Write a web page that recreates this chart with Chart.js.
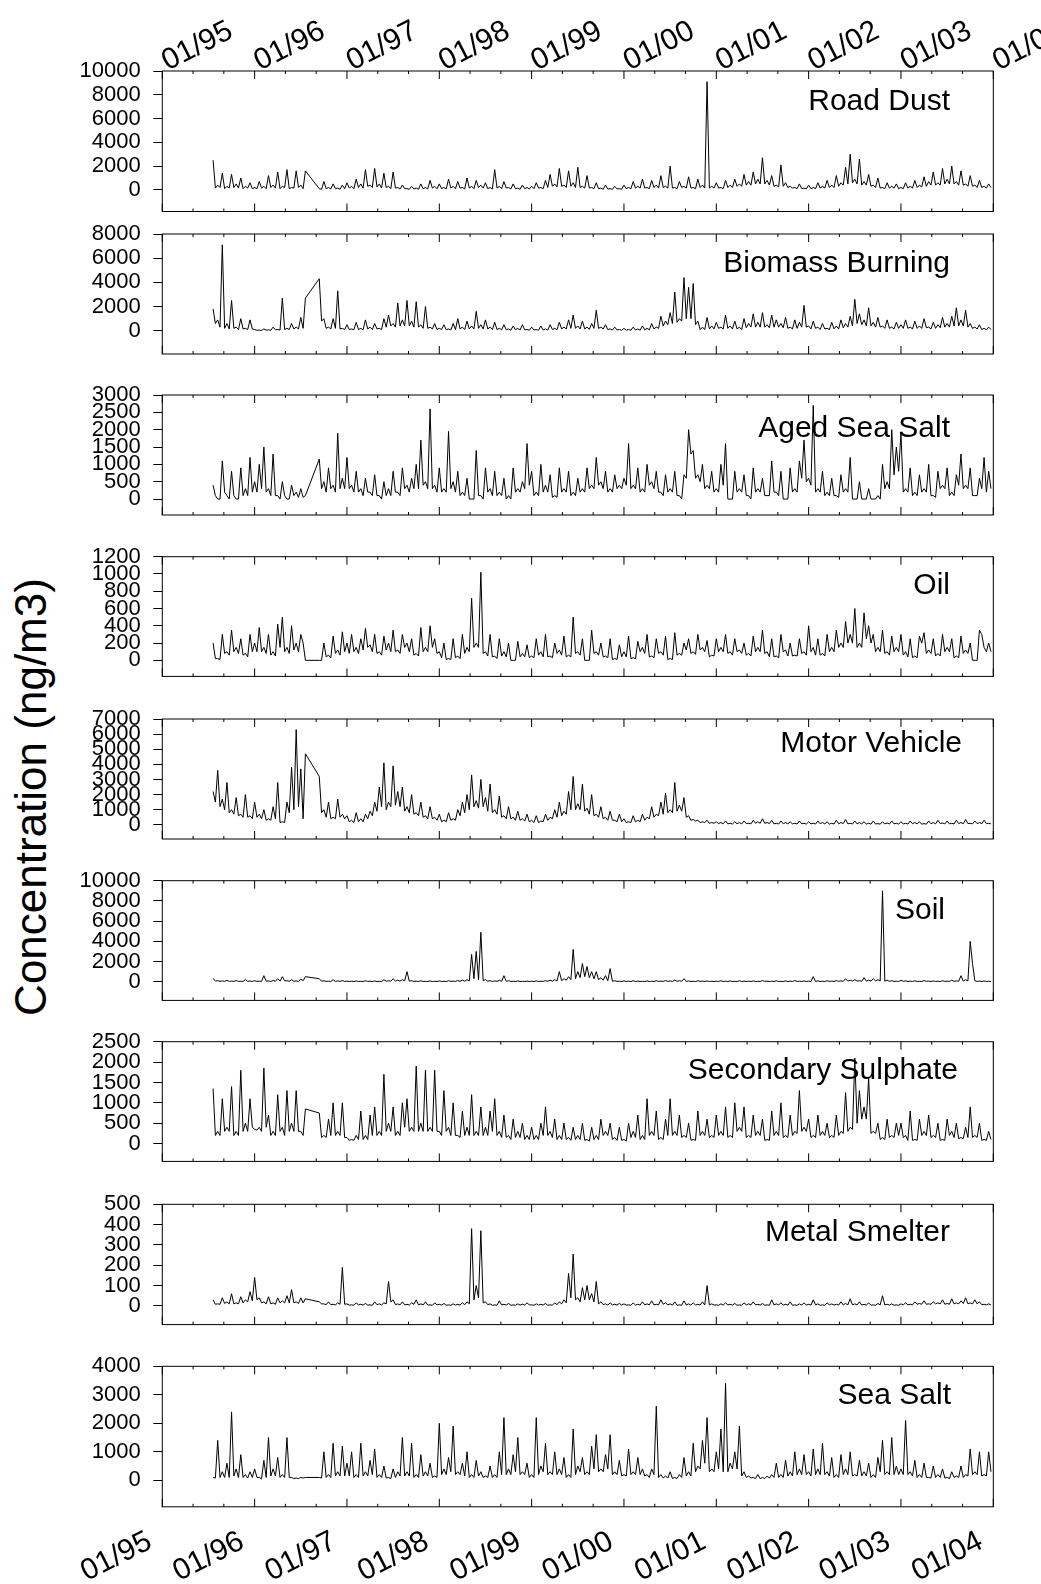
<!DOCTYPE html>
<html>
<head>
<meta charset="utf-8">
<title>Source contributions 1995-2004</title>
<script src="https://cdn.jsdelivr.net/npm/chart.js@4.4.1/dist/chart.umd.min.js"></script>
<style>
  html, body { margin: 0; padding: 0; background: #fff; }
  #wrap { position: relative; width: 1041px; height: 1584px; overflow: hidden; background: #fff; }
  #ytitle {
    position: absolute; left: 31px; top: 797px;
    transform: translate(-50%, -50%) rotate(-90deg);
    font: 44px "Liberation Sans", Arial, sans-serif;
    line-height: 1; white-space: nowrap; color: #000;
  }
</style>
</head>
<body>
<div id="wrap">
  <div id="ytitle">Concentration (ng/m3)</div>
</div>
<script>
// sampling dates (fractional years); no samples between 1996.55 and 1996.70
const dates = [
  1995.55, 1995.575, 1995.6, 1995.625, 1995.65, 1995.675, 1995.7, 1995.725, 1995.75, 1995.775,
  1995.8, 1995.825, 1995.85, 1995.875, 1995.9, 1995.925, 1995.95, 1995.975,
  1996, 1996.025, 1996.05, 1996.075, 1996.1, 1996.125, 1996.15, 1996.175, 1996.2, 1996.225,
  1996.25, 1996.275, 1996.3, 1996.325, 1996.35, 1996.375, 1996.4, 1996.425, 1996.45, 1996.475,
  1996.5, 1996.525, 1996.55,
  1996.7, 1996.725, 1996.75, 1996.775, 1996.8, 1996.825, 1996.85, 1996.875, 1996.9, 1996.925, 1996.95, 1996.975,
  1997, 1997.025, 1997.05, 1997.075, 1997.1, 1997.125, 1997.15, 1997.175, 1997.2, 1997.225,
  1997.25, 1997.275, 1997.3, 1997.325, 1997.35, 1997.375, 1997.4, 1997.425, 1997.45, 1997.475,
  1997.5, 1997.525, 1997.55, 1997.575, 1997.6, 1997.625, 1997.65, 1997.675, 1997.7, 1997.725,
  1997.75, 1997.775, 1997.8, 1997.825, 1997.85, 1997.875, 1997.9, 1997.925, 1997.95, 1997.975,
  1998, 1998.025, 1998.05, 1998.075, 1998.1, 1998.125, 1998.15, 1998.175, 1998.2, 1998.225,
  1998.25, 1998.275, 1998.3, 1998.325, 1998.35, 1998.375, 1998.4, 1998.425, 1998.45, 1998.475,
  1998.5, 1998.525, 1998.55, 1998.575, 1998.6, 1998.625, 1998.65, 1998.675, 1998.7, 1998.725,
  1998.75, 1998.775, 1998.8, 1998.825, 1998.85, 1998.875, 1998.9, 1998.925, 1998.95, 1998.975,
  1999, 1999.025, 1999.05, 1999.075, 1999.1, 1999.125, 1999.15, 1999.175, 1999.2, 1999.225,
  1999.25, 1999.275, 1999.3, 1999.325, 1999.35, 1999.375, 1999.4, 1999.425, 1999.45, 1999.475,
  1999.5, 1999.525, 1999.55, 1999.575, 1999.6, 1999.625, 1999.65, 1999.675, 1999.7, 1999.725,
  1999.75, 1999.775, 1999.8, 1999.825, 1999.85, 1999.875, 1999.9, 1999.925, 1999.95, 1999.975,
  2000, 2000.025, 2000.05, 2000.075, 2000.1, 2000.125, 2000.15, 2000.175, 2000.2, 2000.225,
  2000.25, 2000.275, 2000.3, 2000.325, 2000.35, 2000.375, 2000.4, 2000.425, 2000.45, 2000.475,
  2000.5, 2000.525, 2000.55, 2000.575, 2000.6, 2000.625, 2000.65, 2000.675, 2000.7, 2000.725,
  2000.75, 2000.775, 2000.8, 2000.825, 2000.85, 2000.875, 2000.9, 2000.925, 2000.95, 2000.975,
  2001, 2001.025, 2001.05, 2001.075, 2001.1, 2001.125, 2001.15, 2001.175, 2001.2, 2001.225,
  2001.25, 2001.275, 2001.3, 2001.325, 2001.35, 2001.375, 2001.4, 2001.425, 2001.45, 2001.475,
  2001.5, 2001.525, 2001.55, 2001.575, 2001.6, 2001.625, 2001.65, 2001.675, 2001.7, 2001.725,
  2001.75, 2001.775, 2001.8, 2001.825, 2001.85, 2001.875, 2001.9, 2001.925, 2001.95, 2001.975,
  2002, 2002.025, 2002.05, 2002.075, 2002.1, 2002.125, 2002.15, 2002.175, 2002.2, 2002.225,
  2002.25, 2002.275, 2002.3, 2002.325, 2002.35, 2002.375, 2002.4, 2002.425, 2002.45, 2002.475,
  2002.5, 2002.525, 2002.55, 2002.575, 2002.6, 2002.625, 2002.65, 2002.675, 2002.7, 2002.725,
  2002.75, 2002.775, 2002.8, 2002.825, 2002.85, 2002.875, 2002.9, 2002.925, 2002.95, 2002.975,
  2003, 2003.025, 2003.05, 2003.075, 2003.1, 2003.125, 2003.15, 2003.175, 2003.2, 2003.225,
  2003.25, 2003.275, 2003.3, 2003.325, 2003.35, 2003.375, 2003.4, 2003.425, 2003.45, 2003.475,
  2003.5, 2003.525, 2003.55, 2003.575, 2003.6, 2003.625, 2003.65, 2003.675, 2003.7, 2003.725,
  2003.75, 2003.775, 2003.8, 2003.825, 2003.85, 2003.875, 2003.9, 2003.925, 2003.95, 2003.975
];

const yearLabels = ['01/95', '01/96', '01/97', '01/98', '01/99', '01/00', '01/01', '01/02', '01/03', '01/04'];

// concentrations, ng/m3 (one line per year, 1995 and 1996 are partial)
const roadDust = [
  2500,150, 400,200, 1400,100, 300,150, 1300,200, 500,150, 1000,100, 300,150, 600,100,
  200,100, 700,150, 300,100, 1200,200, 400,150, 1500,100, 300,200, 1700,100, 200,150, 1600,200, 400,100, 1600, 100,50, 700,100, 200,80, 500,100, 150,50, 400,100,
  600,150, 300,100, 900,200, 500,150, 1700,300, 400,200, 1800,250, 500,150, 1400,200, 300,100, 1500,150, 200,80, 400,100, 100,50, 300,80, 150,50, 500,100, 200,80, 800,150, 300,100,
  500,100, 200,80, 900,150, 300,100, 700,150, 200,80, 1000,150, 300,100, 800,200, 400,150, 600,100, 200,80, 1700,150, 300,100, 700,150, 200,80, 500,100, 150,50, 400,100, 200,80,
  300,100, 600,150, 200,100, 800,200, 1300,300, 500,250, 1800,300, 400,200, 1600,300, 600,200, 1900,200, 300,150, 1200,150, 200,100, 600,100, 150,50, 400,80, 100,50, 300,80, 100,50,
  400,100, 200,100, 700,150, 300,150, 900,150, 200,100, 800,200, 400,150, 1200,200, 300,150, 2000,150, 200,100, 700,200, 300,150, 1100,150, 200,100, 900,200, 400,150, 9100,150, 300,150,
  600,150, 200,100, 800,200, 400,200, 900,300, 500,300, 1300,400, 700,400, 1500,500, 900,500, 2700,500, 800,400, 1200,300, 400,250, 2100,300, 600,200, 300,150, 200,100, 500,100, 150,80,
  400,100, 200,100, 600,150, 300,150, 800,200, 400,200, 1200,300, 600,400, 1900,500, 3000,600, 900,500, 2600,400, 700,400, 1300,300, 400,200, 1000,150, 200,100, 600,150, 300,150, 500,100,
  200,100, 600,150, 300,150, 800,200, 400,250, 1100,300, 700,400, 1500,400, 600,400, 1800,500, 900,500, 2000,500, 700,400, 1600,400, 500,300, 1200,300, 400,200, 800,200, 300,150, 500,200
];
const biomassBurning = [
  1800,600, 900,300, 7100,200, 600,150, 2500,200, 300,100, 1000,150, 200,100, 900,150,
  100,40, 50,30, 150,50, 80,40, 300,80, 100,60, 2700,100, 200,100, 600,150, 300,150, 1100,200, 2700, 4300,800, 1000,200, 300,150, 1000,200, 3300,150, 200,100,
  500,100, 150,80, 700,100, 200,80, 900,150, 300,100, 600,150, 200,100, 1000,300, 1300,400, 600,300, 2300,400, 900,400, 2500,400, 800,300, 2400,300, 500,200, 2000,200, 300,150, 600,100,
  200,100, 500,80, 150,60, 600,100, 1000,150, 300,100, 800,150, 400,150, 1600,200, 500,150, 900,150, 300,100, 700,100, 200,80, 500,80, 150,50, 400,80, 200,60, 500,80, 100,50,
  300,60, 100,40, 400,60, 150,50, 500,100, 200,80, 700,150, 300,150, 900,200, 1300,200, 400,150, 800,150, 300,120, 600,200, 1700,200, 300,150, 500,100, 150,60, 300,60, 100,40,
  200,50, 100,40, 300,60, 150,50, 400,80, 200,80, 600,150, 300,200, 1200,400, 800,500, 1500,600, 3200,700, 1000,800, 4400,1000, 3600,1000, 3900,500, 800,100, 300,100, 1100,150, 400,150,
  700,200, 300,150, 1300,200, 400,150, 800,150, 300,100, 1000,250, 600,300, 1400,300, 700,300, 1500,300, 500,250, 1300,300, 900,300, 600,250, 1100,200, 300,150, 900,200, 700,300, 2100,300,
  400,150, 800,200, 300,100, 600,150, 200,100, 700,150, 400,150, 900,250, 600,300, 1200,400, 2600,600, 1400,500, 900,400, 1900,400, 700,300, 1100,300, 400,200, 900,200, 300,150, 700,200,
  500,200, 900,200, 300,150, 800,200, 400,200, 1000,250, 300,150, 700,200, 500,250, 1100,300, 600,300, 1200,400, 1900,400, 900,400, 1700,300, 600,200, 300,150, 500,100, 200,80, 300,100
];
const agedSeaSalt = [
  400,100, 0,0, 1100,200, 100,0, 800,100, 0,0, 900,100, 300,100, 1200,200,
  500,200, 1000,300, 1500,200, 300,100, 1300,100, 100,0, 500,100, 0,0, 400,100, 200,50, 300,50, 100, 1150,300, 500,200, 900,300, 400,200, 1900,300, 600,300,
  1200,300, 400,200, 800,200, 300,100, 600,200, 200,100, 700,100, 100,0, 500,100, 300,100, 800,200, 200,100, 900,300, 400,200, 600,300, 1000,300, 1700,400, 500,300, 2600,300, 400,200,
  900,200, 300,200, 1950,300, 500,200, 800,100, 200,100, 600,0, 0,0, 1400,100, 100,0, 900,200, 300,100, 800,100, 200,100, 600,0, 100,0, 900,200, 300,200, 500,300, 1600,400,
  800,100, 200,100, 1000,200, 400,200, 700,50, 100,50, 900,200, 300,200, 800,100, 200,100, 600,200, 300,200, 900,300, 400,300, 1200,400, 500,300, 800,200, 300,200, 700,300, 400,300,
  600,400, 1600,300, 400,300, 900,200, 300,200, 1000,400, 500,300, 800,200, 200,100, 700,200, 300,200, 800,100, 100,0, 700,600, 2000,1300, 1400,600, 700,500, 1000,300, 400,300, 800,200,
  300,200, 1000,400, 1600,0, 0,0, 800,200, 300,200, 700,100, 100,0, 900,200, 300,200, 600,100, 100,100, 1100,200, 200,100, 800,0, 0,0, 900,200, 300,200, 1100,600, 1700,500,
  600,400, 2700,200, 300,200, 800,100, 200,100, 600,100, 100,50, 700,200, 300,200, 1200,0, 0,0, 500,0, 0,0, 300,0, 0,0, 100,0, 1000,300, 500,300, 2000,700, 1500,800,
  1900,200, 300,200, 900,100, 200,100, 700,200, 300,200, 1000,100, 100,50, 800,300, 400,300, 900,100, 200,100, 700,400, 1300,300, 400,300, 900,100, 100,100, 600,300, 1200,200, 800,300
];
const oil = [
  200,20, 20,10, 300,80, 100,60, 350,100, 150,80, 250,60, 80,40, 300,100,
  200,100, 380,100, 150,80, 300,60, 100,50, 420,150, 500,100, 150,80, 400,120, 200,100, 300,200, 0, 0,0, 200,40, 60,30, 280,80, 120,60, 330,100,
  200,80, 300,100, 150,80, 250,120, 370,150, 180,100, 300,80, 100,60, 280,120, 200,100, 350,100, 120,80, 300,150, 200,100, 250,60, 80,50, 380,100, 150,100, 400,150, 250,80,
  100,30, 200,10, 20,10, 250,30, 50,20, 300,80, 150,100, 720,150, 200,150, 1020,80, 100,50, 300,40, 50,20, 250,50, 100,40, 200,0, 0,0, 220,40, 80,40, 180,30,
  50,30, 250,60, 100,40, 300,40, 50,30, 200,80, 120,60, 280,40, 60,40, 500,80, 100,60, 250,0, 0,0, 350,80, 100,60, 200,40, 50,30, 250,10, 20,10, 180,40,
  100,40, 280,20, 30,20, 220,100, 150,80, 300,40, 50,30, 250,80, 100,60, 280,10, 20,10, 320,60, 80,60, 200,120, 250,80, 100,70, 300,120, 150,100, 230,40, 60,50,
  250,100, 150,100, 300,80, 100,60, 250,100, 120,80, 200,60, 80,50, 280,100, 150,100, 350,80, 100,40, 250,40, 50,30, 300,100, 120,50, 200,50, 60,50, 250,80, 100,60,
  400,100, 150,60, 250,60, 80,50, 300,100, 150,100, 350,150, 200,150, 450,200, 300,200, 600,150, 200,150, 550,250, 400,200, 300,100, 150,100, 350,80, 100,60, 280,100, 150,100,
  300,60, 100,40, 250,30, 50,30, 280,200, 320,80, 120,80, 250,50, 80,50, 300,100, 150,100, 250,30, 50,30, 280,80, 120,80, 200,0, 0,0, 350,300, 150,100, 200,100
];
const motorVehicle = [
  2200,1500, 3600,1200, 1700,1000, 2800,800, 1000,700, 1800,600, 700,500, 2000,500, 600,400,
  1500,500, 700,400, 1000,300, 400,300, 1200,400, 2800,150, 200,150, 1500,800, 3800,1000, 6300,1200, 3700,400, 4700, 3200,800, 1000,500, 1500,400, 500,400, 1700,500, 700,400,
  600,200, 300,150, 800,200, 400,200, 700,400, 900,600, 1500,900, 2500,1200, 4100,1000, 1500,1200, 3900,1300, 2200,1200, 2500,900, 1200,800, 2000,700, 800,600, 1500,500, 600,400, 1200,400, 500,300,
  700,200, 300,200, 800,300, 400,300, 1000,600, 1500,800, 2000,1000, 3300,1200, 1600,1100, 3000,1200, 1800,900, 2700,800, 1000,700, 1900,500, 600,400, 1200,400, 500,300, 900,300, 400,250, 700,200,
  300,150, 600,150, 250,200, 700,300, 500,400, 1000,500, 1500,600, 900,700, 2200,1000, 3200,1000, 1400,1000, 2700,900, 1100,700, 2000,600, 700,500, 1200,400, 500,300, 900,300, 300,200, 700,200,
  400,150, 200,150, 600,200, 300,200, 700,300, 500,400, 1200,500, 700,600, 1500,700, 2100,800, 1000,800, 2800,900, 1300,900, 1800,500, 600,300, 350,250, 300,150, 200,150, 300,100, 150,100,
  200,80, 150,70, 250,60, 100,50, 200,70, 150,60, 250,80, 100,60, 300,100, 200,100, 400,100, 150,80, 300,60, 100,50, 250,70, 150,60, 200,60, 100,50, 250,70, 100,50,
  200,60, 100,50, 250,70, 150,60, 200,50, 100,50, 300,70, 150,80, 350,60, 100,50, 250,60, 150,60, 200,50, 100,40, 250,50, 80,40, 200,60, 120,50, 250,60, 100,50,
  200,60, 100,50, 250,70, 150,60, 200,40, 80,40, 250,70, 150,60, 300,80, 120,60, 250,60, 100,50, 300,80, 150,70, 350,80, 100,60, 250,80, 150,70, 300,80, 100,60
];
const soil = [
  300,80, 100,40, 80,30, 150,30, 60,30, 120,30, 50,30, 200,40, 70,30,
  100,30, 60,30, 600,50, 80,30, 120,40, 300,60, 500,80, 100,40, 200,40, 80,40, 250,100, 500, 300,50, 100,30, 60,20, 200,30, 80,30, 120,30,
  60,20, 50,20, 80,20, 40,20, 100,30, 50,20, 70,20, 40,20, 200,50, 100,50, 300,60, 150,60, 200,80, 1000,60, 100,30, 50,20, 100,20, 40,20, 80,20, 50,20,
  80,20, 50,20, 100,30, 60,30, 120,40, 150,50, 200,80, 2700,300, 3000,200, 4900,100, 200,50, 100,30, 80,30, 150,40, 600,40, 100,30, 50,20, 80,20, 40,20, 60,20,
  50,20, 80,20, 60,30, 100,50, 150,50, 200,80, 1000,100, 300,150, 500,200, 3200,300, 1000,400, 1800,500, 1500,400, 1000,300, 1000,200, 400,150, 600,100, 1300,50, 100,30, 50,20,
  80,20, 50,20, 100,30, 60,20, 40,20, 80,20, 50,20, 100,30, 60,30, 120,30, 80,30, 150,40, 100,40, 300,30, 80,20, 50,20, 100,30, 60,20, 80,20, 50,20,
  60,20, 100,20, 50,20, 80,20, 40,15, 100,20, 60,20, 50,20, 80,20, 40,20, 120,30, 60,20, 50,20, 100,20, 40,15, 80,20, 60,20, 120,30, 50,20, 80,20,
  60,20, 500,30, 80,20, 50,20, 100,30, 60,30, 120,40, 80,40, 300,60, 150,60, 200,60, 100,50, 400,60, 150,60, 300,80, 200,80, 9000,60, 150,40, 100,30, 50,20,
  150,40, 80,30, 60,20, 100,20, 50,20, 120,30, 60,20, 80,30, 50,20, 100,30, 60,30, 150,40, 80,40, 600,60, 200,80, 4000,1800, 100,30, 60,20, 80,20, 50,20
];
const secondarySulphate = [
  1350,200, 300,200, 1100,300, 400,300, 1400,200, 300,200, 1800,300, 500,300, 1100,400,
  350,330, 400,300, 1850,400, 700,200, 300,200, 1200,300, 400,200, 1300,300, 500,300, 1300,300, 300,200, 850, 750,150, 200,150, 600,200, 1000,200, 300,200, 1000,150,
  150,80, 100,80, 200,100, 800,100, 200,100, 700,200, 900,200, 300,200, 1700,300, 500,300, 900,200, 300,200, 1000,400, 1100,300, 400,300, 1900,300, 500,300, 1800,300, 400,300, 1800,300,
  300,200, 1300,300, 400,200, 1000,200, 200,150, 800,200, 400,200, 1200,200, 300,200, 900,200, 400,200, 800,300, 1100,200, 300,150, 700,150, 200,100, 600,150, 300,150, 500,100, 200,100,
  400,100, 200,100, 500,200, 900,200, 300,150, 600,100, 200,100, 500,100, 150,80, 400,100, 200,100, 500,80, 100,60, 400,100, 200,100, 600,200, 300,200, 500,100, 150,80, 400,80,
  100,60, 500,150, 300,150, 700,100, 200,100, 1100,200, 300,200, 800,100, 150,100, 600,200, 1100,200, 300,200, 700,150, 200,150, 500,80, 100,80, 800,200, 300,200, 600,150, 200,150,
  700,200, 300,200, 900,150, 200,150, 1000,300, 400,300, 900,150, 200,150, 700,200, 300,200, 600,80, 100,80, 800,200, 300,200, 1000,150, 200,150, 700,200, 300,250, 1300,300, 400,300,
  600,150, 200,150, 700,200, 300,200, 500,150, 200,150, 700,200, 300,250, 1250,300, 400,350, 2100,500, 1300,600, 900,600, 1600,250, 300,250, 500,100, 150,100, 600,150, 200,150, 500,200,
  500,150, 200,80, 800,80, 100,80, 600,200, 300,200, 700,150, 200,150, 500,80, 100,80, 600,200, 300,150, 500,120, 150,120, 400,150, 900,150, 200,150, 500,80, 100,80, 300,100
];
const metalSmelter = [
  30,8, 10,8, 40,12, 20,10, 60,10, 15,10, 45,15, 30,20, 70,25,
  140,30, 40,15, 20,10, 45,10, 15,8, 40,15, 25,15, 50,15, 80,15, 20,12, 40,15, 35, 20,10, 10,6, 20,6, 8,5, 15,8, 190,8,
  10,4, 5,3, 15,5, 8,4, 12,4, 5,3, 20,6, 10,5, 15,10, 120,20, 30,6, 10,5, 20,5, 8,4, 15,8, 30,5, 10,5, 20,4, 5,3, 15,5,
  8,4, 12,3, 5,3, 10,4, 8,4, 15,6, 20,10, 380,30, 100,40, 370,15, 20,6, 10,3, 5,3, 25,5, 8,4, 12,3, 5,3, 10,4, 8,4, 15,5,
  5,3, 10,4, 8,4, 12,3, 5,3, 15,6, 20,10, 30,15, 160,40, 255,30, 40,20, 90,30, 100,30, 60,20, 120,10, 20,6, 10,4, 15,5, 8,4, 12,4,
  10,4, 5,3, 15,4, 8,4, 20,5, 10,5, 25,5, 8,5, 30,8, 15,5, 10,4, 20,3, 5,3, 25,5, 10,4, 15,4, 8,4, 20,5, 100,5, 10,4,
  5,3, 10,4, 15,5, 8,4, 12,3, 5,3, 15,5, 10,5, 20,5, 8,4, 12,3, 5,3, 30,5, 10,5, 15,4, 8,4, 20,3, 5,3, 10,4, 15,4,
  8,4, 30,5, 10,3, 5,3, 15,5, 10,4, 8,4, 20,5, 12,5, 35,5, 10,5, 20,4, 8,4, 15,3, 5,3, 12,5, 50,5, 8,4, 10,3, 5,3,
  10,5, 15,5, 8,5, 20,8, 12,8, 25,8, 10,8, 20,10, 15,10, 30,8, 12,8, 35,10, 15,10, 25,12, 40,10, 15,10, 30,10, 20,6, 8,5, 10,5
];
const seaSalt = [
  100,80, 1400,100, 300,100, 600,100, 2400,150, 400,100, 900,100, 200,80, 300,100,
  400,100, 100,50, 700,100, 1500,150, 400,150, 800,100, 200,100, 1500,100, 100,60, 80,60, 100,80, 100, 100,80, 1000,100, 200,100, 1300,150, 300,150, 1200,150,
  600,150, 1000,100, 200,100, 1300,150, 300,150, 700,200, 1100,100, 200,100, 500,80, 100,60, 400,100, 300,150, 1500,150, 300,150, 1300,100, 200,100, 900,150, 300,150, 600,100, 150,100,
  2000,200, 400,200, 800,300, 1900,200, 300,200, 600,150, 1000,100, 200,100, 700,150, 300,100, 150,100, 500,100, 200,100, 1000,200, 2200,200, 400,200, 900,300, 1500,200, 300,200, 600,100,
  200,100, 2200,200, 500,300, 1300,200, 300,200, 1000,200, 400,200, 800,100, 200,100, 1800,200, 500,300, 800,200, 300,200, 1200,400, 1600,300, 400,300, 900,400, 1600,200, 300,200, 700,150,
  200,150, 1100,200, 300,200, 800,200, 400,150, 200,100, 400,200, 2600,100, 200,80, 150,80, 300,60, 100,60, 200,100, 800,150, 300,150, 1300,300, 500,400, 1400,600, 2200,300, 400,300,
  1000,400, 1800,300, 3400,300, 600,400, 1000,400, 1900,150, 300,100, 150,80, 100,60, 200,60, 100,60, 150,80, 200,100, 600,100, 200,100, 700,150, 300,150, 1000,200, 400,200, 900,200,
  300,150, 1100,200, 400,200, 1300,200, 300,150, 800,100, 200,100, 900,200, 400,200, 1000,150, 200,150, 700,150, 300,150, 600,100, 200,100, 800,300, 1400,200, 300,200, 1500,200, 500,200,
  400,200, 2100,200, 300,150, 700,100, 200,100, 600,100, 100,80, 500,100, 200,100, 400,80, 100,60, 300,100, 150,100, 500,100, 200,150, 1100,200, 300,200, 1000,150, 200,150, 1000,300
];

const panelNames = ['Road Dust', 'Biomass Burning', 'Aged Sea Salt', 'Oil', 'Motor Vehicle',
  'Soil', 'Secondary Sulphate', 'Metal Smelter', 'Sea Salt'];
const panelSeries = [roadDust, biomassBurning, agedSeaSalt, oil, motorVehicle,
  soil, secondarySulphate, metalSmelter, seaSalt];
const yMax = [10000, 8000, 3000, 1200, 7000, 10000, 2500, 500, 4000];
const yMin = [-1819, -1921, -459, -186, -940, -1849, -437, -92, -930];
const yStep = [2000, 2000, 500, 200, 1000, 2000, 500, 100, 1000];

// page layout
const PAGE_W = 1041, PAGE_H = 1584;
const PLOT_LEFT = 162.3, PLOT_RIGHT = 993.3, PANEL_H = 140.5;
const panelTops = [71, 234, 395, 556.7, 719, 880.7, 1041.7, 1204.3, 1366.3];
const titleRight = [950, 950, 950, 950, 962, 945, 958, 950, 951];
const titleDy = [39, 38, 42, 37, 33, 38, 37, 37, 38];
const FONT = '"Liberation Sans", Arial, Helvetica, sans-serif';

// box around the plot, inward date ticks (majors at January, minors every 4 months), panel name
const framePlugin = {
  id: 'frame',
  afterDraw(chart, args, opts) {
    const {ctx, chartArea: a} = chart;
    const x = chart.scales.x;
    ctx.save();
    ctx.strokeStyle = '#000';
    ctx.lineWidth = 1;
    ctx.strokeRect(a.left, a.top, a.right - a.left, a.bottom - a.top);
    ctx.beginPath();
    for (let k = 0; k <= 27; k++) {
      const px = x.getPixelForValue(1995 + k / 3);
      const len = k % 3 === 0 ? 8 : 3;
      ctx.moveTo(px, a.top);
      ctx.lineTo(px, a.top + len);
      ctx.moveTo(px, a.bottom);
      ctx.lineTo(px, a.bottom - len);
    }
    ctx.stroke();
    ctx.fillStyle = '#000';
    ctx.font = '30px ' + FONT;
    ctx.textAlign = 'right';
    ctx.textBaseline = 'alphabetic';
    ctx.fillText(opts.title, opts.right, a.top + opts.dy);
    ctx.restore();
  }
};

const wrap = document.getElementById('wrap');

panelNames.forEach((name, i) => {
  const first = i === 0;
  const last = i === panelNames.length - 1;
  const top = panelTops[i];
  const bottom = top + PANEL_H;
  const canvasTop = first ? 0 : Math.floor(top) - 20;
  const canvasBottom = last ? PAGE_H : Math.ceil(bottom) + 20;

  const canvas = document.createElement('canvas');
  canvas.width = PAGE_W;
  canvas.height = canvasBottom - canvasTop;
  canvas.style.cssText = 'position:absolute;left:0;top:' + canvasTop + 'px;width:' + PAGE_W + 'px;height:' + canvas.height + 'px';
  wrap.appendChild(canvas);

  const values = panelSeries[i];
  if (values.length !== dates.length) console.warn(name, values.length, dates.length);
  const points = dates.map((d, k) => ({x: d, y: values[k]}));

  new Chart(canvas.getContext('2d'), {
    type: 'line',
    data: {
      datasets: [{
        label: name,
        data: points,
        borderColor: '#000',
        borderWidth: 1,
        pointRadius: 0,
        fill: false,
        tension: 0
      }]
    },
    options: {
      responsive: false,
      animation: false,
      devicePixelRatio: 1,
      layout: {
        padding: {
          left: 0,
          right: PAGE_W - PLOT_RIGHT,
          top: first ? 0 : top - canvasTop,
          bottom: last ? 0 : canvasBottom - bottom
        }
      },
      plugins: {
        legend: {display: false},
        tooltip: {enabled: false},
        frame: {title: name, right: titleRight[i], dy: titleDy[i]}
      },
      scales: {
        x: {
          type: 'linear',
          min: 1995,
          max: 2004,
          display: first || last,
          position: first ? 'top' : 'bottom',
          grid: {display: false, drawTicks: false},
          border: {display: false},
          ticks: {
            stepSize: 1,
            autoSkip: false,
            minRotation: 27,
            maxRotation: 27,
            color: '#000',
            font: {family: FONT, size: 30},
            padding: first ? -8.5 : 17,
            labelOffset: first ? 18 : -12.5,
            callback: v => yearLabels[Math.round(v - 1995)]
          },
          afterFit: s => {
            s.height = first ? top - canvasTop : canvasBottom - bottom;
            s.paddingLeft = 0;
            s.paddingRight = 0;
          }
        },
        y: {
          min: yMin[i],
          max: yMax[i],
          grid: {drawOnChartArea: false, drawTicks: true, tickLength: 9, color: '#000', lineWidth: 1},
          border: {display: false},
          ticks: {
            autoSkip: false,
            padding: 12.5,
            color: '#000',
            font: {family: FONT, size: 22},
            callback: v => String(Math.round(v))
          },
          afterBuildTicks: s => {
            const t = [];
            for (let v = 0; v <= yMax[i]; v += yStep[i]) t.push({value: v});
            s.ticks = t;
          },
          afterFit: s => {
            s.width = PLOT_LEFT;
            s.paddingTop = 0;
            s.paddingBottom = 0;
          }
        }
      }
    },
    plugins: [framePlugin]
  });
});
</script>
</body>
</html>
